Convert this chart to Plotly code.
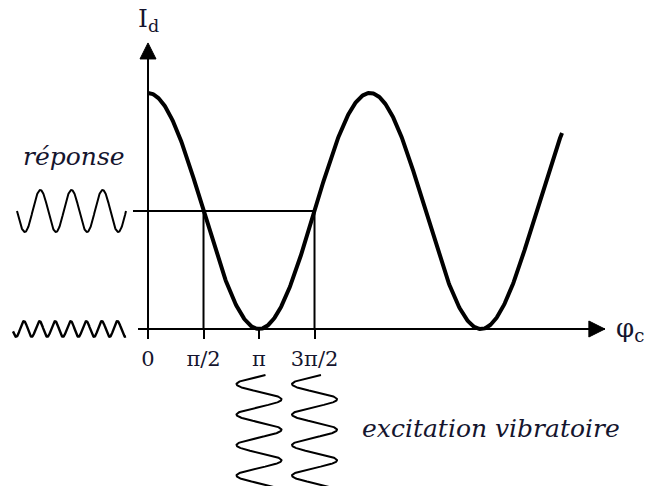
import numpy as np
import plotly.graph_objects as go

PI = np.pi

# Detected intensity versus phase: raised cosine between I_min and I_max
I_MIN, I_MAX = 0.0, 2.0
PHASE_END = 3.73 * PI

# Phase ticks on the horizontal axis
phase_ticks = [0, PI / 2, PI, 3 * PI / 2]
phase_tick_labels = ["0", "π/2", "π", "3π/2"]

# Operating points marked with guide lines (quadrature points)
working_points = [PI / 2, 3 * PI / 2]
# Phases at which the vibratory excitation is sketched
excitation_centres = [PI, 3 * PI / 2]

# Sketched signals: number of cycles drawn
response_cycles = 3.5       # linear response at quadrature
doubled_cycles = 7.25       # frequency-doubled response at the minimum
excitation_period = 0.2585  # vertical period of the excitation sketch (intensity units)

X_RANGE = [-4.189, 14.151]
Y_RANGE = [-1.3305, 2.788]

INK = "black"
TEXT = "#15152e"
SERIF = "DejaVu Serif"


def intensity(phi):
    return I_MIN + (I_MAX - I_MIN) * (1 + np.cos(phi)) / 2


work_level = intensity(working_points[0])

fig = go.Figure()

# Main response curve
phi = np.linspace(0, PHASE_END, 600)
fig.add_trace(go.Scatter(x=phi, y=intensity(phi), mode="lines",
                         line=dict(color=INK, width=4)))

# Guide lines: horizontal at the working level, verticals down to the axis
fig.add_trace(go.Scatter(x=[-0.425, working_points[1]], y=[work_level, work_level],
                         mode="lines", line=dict(color=INK, width=2)))
for wp in working_points:
    fig.add_trace(go.Scatter(x=[wp, wp], y=[work_level, 0], mode="lines",
                             line=dict(color=INK, width=2)))

# Response at quadrature (same frequency as the excitation)
t = np.linspace(0, 1, 400)
rx0, rx1 = -3.708, -0.623
fig.add_trace(go.Scatter(x=rx0 + (rx1 - rx0) * t,
                         y=work_level - 0.178 * np.sin(2 * PI * response_cycles * t),
                         mode="lines", line=dict(color=INK, width=2)))

# Response at the minimum (doubled frequency, small amplitude)
dx0, dx1 = -3.821, -0.623
fig.add_trace(go.Scatter(x=dx0 + (dx1 - dx0) * t,
                         y=I_MIN + 0.066 * np.cos(2 * PI * (doubled_cycles * t - 0.7)),
                         mode="lines", line=dict(color=INK, width=2.4)))

# Vibratory excitation, drawn vertically below the phase axis
ey = np.linspace(-0.39, -1.46, 500)
for c in excitation_centres:
    theta = 2.85 + 2 * PI * (-0.39 - ey) / excitation_period
    fig.add_trace(go.Scatter(x=c + 0.637 * np.sin(theta), y=ey, mode="lines",
                             line=dict(color=INK, width=2)))

# Axes: shafts with arrow-shaped end markers
head = dict(color=INK, opacity=1, line=dict(width=1, color=INK))
fig.add_trace(go.Scatter(x=[-0.283, 12.93], y=[0, 0], mode="lines+markers",
                         line=dict(color=INK, width=2),
                         marker=dict(symbol=["circle", "arrow-right"], size=[0, 16], **head)))
fig.add_trace(go.Scatter(x=[0, 0], y=[0, 2.424], mode="lines+markers",
                         line=dict(color=INK, width=2),
                         marker=dict(symbol=["circle", "arrow-up"], size=[0, 16], **head)))

# Labels
fig.add_annotation(x=0, y=2.62, text="I<sub>d</sub>", showarrow=False,
                   font=dict(family=SERIF, size=25, color=TEXT), xanchor="center", yanchor="middle")
fig.add_annotation(x=13.2, y=0.0, text="φ<sub>c</sub>", showarrow=False,
                   font=dict(family=SERIF, size=26, color=TEXT), xanchor="left", yanchor="middle")
fig.add_annotation(x=-2.1, y=1.466, text="<i>réponse</i>", showarrow=False,
                   font=dict(family=SERIF, size=25, color=TEXT), xanchor="center", yanchor="middle")
fig.add_annotation(x=6.0, y=-0.839, text="<i>excitation vibratoire</i>", showarrow=False,
                   font=dict(family=SERIF, size=25, color=TEXT), xanchor="left", yanchor="middle")

axis_pos = (0 - Y_RANGE[0]) / (Y_RANGE[1] - Y_RANGE[0])

fig.update_layout(
    width=648, height=486,
    margin=dict(l=0, r=0, t=0, b=0),
    paper_bgcolor="white", plot_bgcolor="white",
    showlegend=False,
    xaxis=dict(range=X_RANGE, domain=[0, 1], anchor="free", position=axis_pos,
               tickvals=phase_ticks, ticktext=phase_tick_labels,
               ticks="outside", ticklen=9, tickwidth=2, tickcolor=INK,
               tickfont=dict(family=SERIF, size=21, color=TEXT),
               ticklabelstandoff=2,
               showline=False, showgrid=False, zeroline=False, automargin=False,
               fixedrange=True),
    yaxis=dict(range=Y_RANGE, domain=[0, 1], visible=False, showgrid=False,
               zeroline=False, fixedrange=True),
)

fig.write_html("out.html", config={"displayModeBar": False})
